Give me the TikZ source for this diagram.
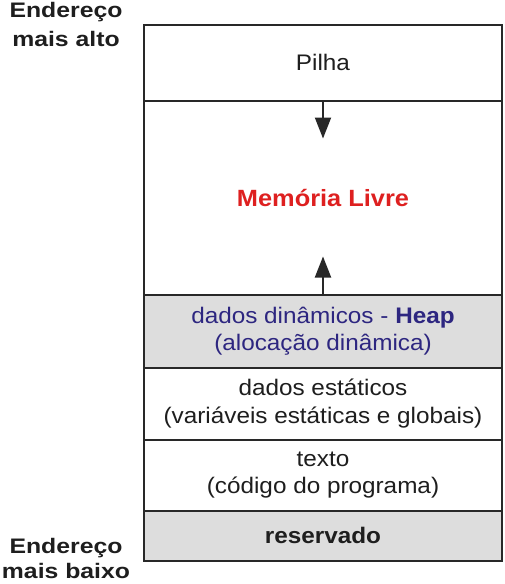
\documentclass[tikz,border=0pt]{standalone}
\usepackage{fontspec}
\setmainfont{Liberation Sans}[FakeStretch=1.08]
\newfontfamily\lblfont{Liberation Sans}[FakeStretch=1.18]
\usetikzlibrary{arrows.meta}
\definecolor{edge}{RGB}{40,40,40}
\definecolor{shade}{RGB}{221,221,221}
\definecolor{heapblue}{RGB}{45,38,128}
\definecolor{livrered}{RGB}{222,32,32}
\definecolor{txt}{RGB}{30,30,30}
\tikzset{
  seg/.style={draw=edge, line width=2pt, rectangle, inner sep=0pt, minimum width=358pt,
    align=center, text=txt, font=\fontsize{22.5}{27.5}\selectfont},
  grayseg/.style={seg, fill=shade},
  addrlbl/.style={align=center, inner sep=0pt, text=txt,
    font=\lblfont\bfseries\fontsize{21}{29}\selectfont},
  growarrow/.style={draw=edge, line width=2pt, -{Triangle[width=16pt,length=21pt]}},
}
\begin{document}
\begin{tikzpicture}[x=1pt,y=1pt]
\useasboundingbox (0,0) rectangle (504,-584);
\fill[white] (0,0) rectangle (504,-584);
\node[seg, minimum height=75.5pt] (pilha) at (323,-62.75) {Pilha};
\node[seg, minimum height=194.5pt] (livre) at (323,-197.75)
  {\textcolor{livrered}{\bfseries\fontsize{23.5}{28}\selectfont Memória Livre}};
\node[grayseg, minimum height=72.6pt, text=heapblue] (heap) at (323,-331.3)
  {dados dinâmicos - \textbf{Heap}\\(alocação dinâmica)};
\node[seg, minimum height=71.9pt] (estat) at (323,-403.55)
  {dados estáticos\\(variáveis estáticas e globais)};
\node[seg, minimum height=71.5pt] (texto) at (323,-475.25)
  {texto\\(código do programa)};
\node[grayseg, minimum height=49.7pt] (reserv) at (323,-535.85)
  {\bfseries reservado};
\coordinate (downtip) at (323,-138.5);
\coordinate (uptip) at (323,-256.5);
\draw[growarrow] (pilha.south) -- (downtip);
\draw[growarrow] (heap.north) -- (uptip);
\node[addrlbl, anchor=north] (alto) at (66,-2) {Endereço\\mais alto};
\node[addrlbl, anchor=north, font=\lblfont\bfseries\fontsize{21}{25}\selectfont] (baixo) at (66,-538) {Endereço\\mais baixo};
\end{tikzpicture}
\end{document}
